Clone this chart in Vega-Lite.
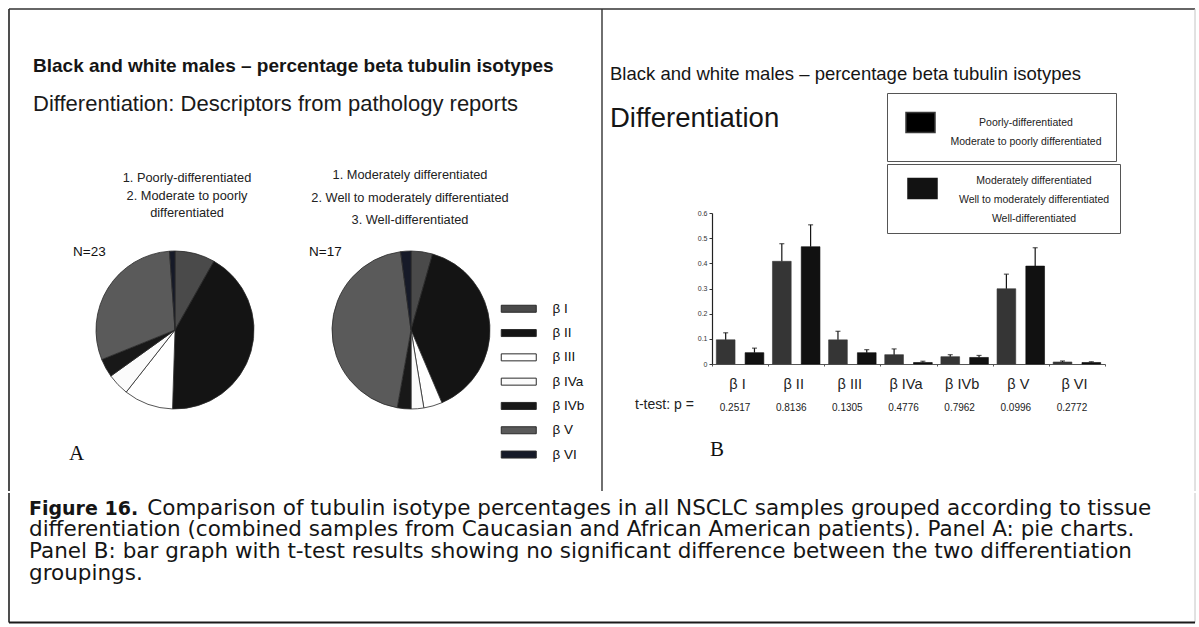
{
  "$schema": "https://vega.github.io/schema/vega-lite/v6.json",
  "padding": {"left": 7, "top": 8, "right": 6, "bottom": 5},
  "background": "white",
  "config": {
    "view": {"stroke": null},
    "font": "Liberation Sans",
    "axis": {"labelFont": "Liberation Sans"},
    "legend": {"labelFont": "Liberation Sans"},
    "style": {"guide-label": {"lineHeight": 19}}
  },
  "datasets": {
    "pies": [
      {"pie": "p1", "isotype": "β I", "pct": 8.2},
      {"pie": "p1", "isotype": "β II", "pct": 42.3},
      {"pie": "p1", "isotype": "β III", "pct": 10.1},
      {"pie": "p1", "isotype": "β IVa", "pct": 4.5},
      {"pie": "p1", "isotype": "β IVb", "pct": 3.8},
      {"pie": "p1", "isotype": "β V", "pct": 30.0},
      {"pie": "p1", "isotype": "β VI", "pct": 1.1},
      {"pie": "p2", "isotype": "β I", "pct": 4.4},
      {"pie": "p2", "isotype": "β II", "pct": 39.2},
      {"pie": "p2", "isotype": "β III", "pct": 3.8},
      {"pie": "p2", "isotype": "β IVa", "pct": 2.6},
      {"pie": "p2", "isotype": "β IVb", "pct": 2.8},
      {"pie": "p2", "isotype": "β V", "pct": 45.1},
      {"pie": "p2", "isotype": "β VI", "pct": 2.1}
    ],
    "pieNotes": [
      {"pie": "p1", "n": "N=23", "lines": ["1. Poorly-differentiated", "2. Moderate to poorly", "differentiated"]},
      {"pie": "p2", "n": "N=17", "lines": ["1. Moderately differentiated", "2. Well to  moderately differentiated", "3. Well-differentiated"]}
    ],
    "bars": [
      {"iso": "β I", "grp": "poor", "mean": 0.096, "upper": 0.124},
      {"iso": "β I", "grp": "well", "mean": 0.045, "upper": 0.063},
      {"iso": "β II", "grp": "poor", "mean": 0.408, "upper": 0.478},
      {"iso": "β II", "grp": "well", "mean": 0.466, "upper": 0.553},
      {"iso": "β III", "grp": "poor", "mean": 0.096, "upper": 0.13},
      {"iso": "β III", "grp": "well", "mean": 0.045, "upper": 0.057},
      {"iso": "β IVa", "grp": "poor", "mean": 0.037, "upper": 0.06},
      {"iso": "β IVa", "grp": "well", "mean": 0.006, "upper": 0.011},
      {"iso": "β IVb", "grp": "poor", "mean": 0.029, "upper": 0.037},
      {"iso": "β IVb", "grp": "well", "mean": 0.026, "upper": 0.034},
      {"iso": "β V", "grp": "poor", "mean": 0.299, "upper": 0.357},
      {"iso": "β V", "grp": "well", "mean": 0.389, "upper": 0.462},
      {"iso": "β VI", "grp": "poor", "mean": 0.008, "upper": 0.012},
      {"iso": "β VI", "grp": "well", "mean": 0.006, "upper": 0.009}
    ],
    "pvals": [
      {"iso": "β I", "p": "0.2517"},
      {"iso": "β II", "p": "0.8136"},
      {"iso": "β III", "p": "0.1305"},
      {"iso": "β IVa", "p": "0.4776"},
      {"iso": "β IVb", "p": "0.7962"},
      {"iso": "β V", "p": "0.0996"},
      {"iso": "β VI", "p": "0.2772"}
    ]
  },
  "vconcat": [
    {
      "hconcat": [
        {
          "width": 593,
          "height": 482,
          "title": {
            "text": "Black and white males – percentage beta tubulin isotypes",
            "subtitle": "Differentiation: Descriptors from pathology reports",
            "anchor": "start",
            "frame": "group",
            "orient": "top",
            "offset": -107,
            "dx": 24,
            "font": "Liberation Sans",
            "fontSize": 19,
            "fontWeight": "bold",
            "color": "#151515",
            "subtitleFont": "Liberation Sans",
            "subtitleFontSize": 22,
            "subtitleColor": "#1a1a1a",
            "subtitlePadding": 18
          },
          "layer": [
            {
              "data": {"values": [{}]},
              "mark": {"type": "rule", "stroke": "#222", "strokeWidth": 1.6},
              "encoding": {"x": {"value": 0}, "y": {"value": 0}, "y2": {"value": "height"}}
            },
            {
              "data": {"values": [{}]},
              "mark": {"type": "rule", "stroke": "#333", "strokeWidth": 1.6},
              "encoding": {"x": {"value": 0}, "x2": {"value": "width"}, "y": {"value": 0}}
            },
            {
              "data": {"values": [{}]},
              "mark": {"type": "rule", "stroke": "#333", "strokeWidth": 1.4},
              "encoding": {"x": {"value": "width"}, "y": {"value": 0}, "y2": {"value": "height"}}
            },
            {
              "data": {"name": "pies"},
              "transform": [{"filter": "datum.pie == 'p1'"}],
              "mark": {"type": "arc", "radius": 79, "stroke": "#2a2a2a", "strokeWidth": 0.8},
              "encoding": {
                "theta": {"field": "pct", "type": "quantitative", "stack": "normalize"},
                "order": {"field": "isotype", "type": "ordinal", "sort": "ascending"},
                "fill": {
                  "field": "isotype",
                  "type": "nominal",
                  "scale": {
                    "domain": ["β I", "β II", "β III", "β IVa", "β IVb", "β V", "β VI"],
                    "range": ["#4a4a4a", "#141414", "#ffffff", "#fbfbfb", "#181818", "#5a5a5a", "#161a28"]
                  },
                  "legend": {
                    "orient": "none",
                    "legendX": 503,
                    "legendY": 293,
                    "title": null,
                    "padding": 0,
                    "symbolType": "M-3.5,-0.7H3.5V0.7H-3.5Z",
                    "symbolSize": 100,
                    "symbolStrokeColor": "#222",
                    "symbolStrokeWidth": 1,
                    "labelFontSize": 13.5,
                    "labelColor": "#111",
                    "labelOffset": 27,
                    "rowPadding": 9.3
                  }
                },
                "x": {"field": "pie", "type": "nominal", "scale": {"type": "point", "domain": ["p1", "p2"], "range": [166, 402], "padding": 0}, "axis": null},
                "y": {"field": "pie", "type": "nominal", "scale": {"type": "point", "domain": ["p1", "p2"], "range": [321, 321], "padding": 0}, "axis": null}
              }
            },
            {
              "data": {"name": "pies"},
              "transform": [{"filter": "datum.pie == 'p2'"}],
              "mark": {"type": "arc", "radius": 79, "stroke": "#2a2a2a", "strokeWidth": 0.8},
              "encoding": {
                "theta": {"field": "pct", "type": "quantitative", "stack": "normalize"},
                "order": {"field": "isotype", "type": "ordinal", "sort": "ascending"},
                "fill": {"field": "isotype", "type": "nominal"},
                "x": {"field": "pie", "type": "nominal"},
                "y": {"field": "pie", "type": "nominal"}
              }
            },
            {
              "data": {"name": "pieNotes"},
              "transform": [{"filter": "datum.pie == 'p1'"}],
              "mark": {"type": "text", "align": "center", "baseline": "alphabetic", "fontSize": 12.8, "lineHeight": 17.5, "dx": 12, "dy": -148, "fill": "#222"},
              "encoding": {
                "x": {"field": "pie", "type": "nominal"},
                "y": {"field": "pie", "type": "nominal"},
                "text": {"field": "lines"}
              }
            },
            {
              "data": {"name": "pieNotes"},
              "transform": [{"filter": "datum.pie == 'p2'"}],
              "mark": {"type": "text", "align": "center", "baseline": "alphabetic", "fontSize": 12.8, "lineHeight": 22.5, "dx": -1, "dy": -151, "fill": "#222"},
              "encoding": {
                "x": {"field": "pie", "type": "nominal"},
                "y": {"field": "pie", "type": "nominal"},
                "text": {"field": "lines"}
              }
            },
            {
              "data": {"name": "pieNotes"},
              "mark": {"type": "text", "align": "left", "baseline": "alphabetic", "fontSize": 13.5, "dx": -102, "dy": -74, "fill": "#111"},
              "encoding": {
                "x": {"field": "pie", "type": "nominal"},
                "y": {"field": "pie", "type": "nominal"},
                "text": {"field": "n"}
              }
            },
            {
              "data": {"values": [{"pie": "p1", "tag": "A"}]},
              "mark": {"type": "text", "align": "left", "baseline": "alphabetic", "font": "Liberation Serif", "fontSize": 21, "dx": -106, "dy": 130, "fill": "#111"},
              "encoding": {
                "x": {"field": "pie", "type": "nominal"},
                "y": {"field": "pie", "type": "nominal"},
                "text": {"field": "tag"}
              }
            }
          ]
        },
        {
          "width": 593,
          "height": 482,
          "title": {
            "text": "Black and white males – percentage beta tubulin isotypes",
            "subtitle": "Differentiation",
            "anchor": "start",
            "frame": "group",
            "orient": "top",
            "offset": -124,
            "dx": 8,
            "font": "Liberation Sans",
            "fontSize": 18.5,
            "fontWeight": "normal",
            "color": "#151515",
            "subtitleFont": "Liberation Sans",
            "subtitleFontSize": 27.5,
            "subtitleColor": "#151515",
            "subtitlePadding": 21.5
          },
          "resolve": {"scale": {"stroke": "independent"}},
          "layer": [
            {
              "data": {"values": [{}]},
              "mark": {"type": "rule", "stroke": "#333", "strokeWidth": 1.6},
              "encoding": {"x": {"value": 0}, "x2": {"value": "width"}, "y": {"value": 0}}
            },
            {
              "data": {"values": [{}]},
              "mark": {"type": "rule", "stroke": "#c4c4c4", "strokeWidth": 1},
              "encoding": {"x": {"value": "width"}, "y": {"value": 0}, "y2": {"value": "height"}}
            },
            {
              "data": {"name": "bars"},
              "mark": {"type": "bar", "strokeWidth": 0.6},
              "encoding": {
                "x": {
                  "field": "iso",
                  "type": "nominal",
                  "scale": {"domain": ["β I", "β II", "β III", "β IVa", "β IVb", "β V", "β VI"], "range": [110, 503], "paddingInner": 0, "paddingOuter": 0},
                  "axis": {
                    "orient": "bottom",
                    "offset": -127,
                    "title": null,
                    "labelAngle": 0,
                    "labelFontSize": 14.5,
                    "labelColor": "#222",
                    "labelPadding": 11,
                    "labelOffset": -3,
                    "tickSize": 2,
                    "tickBand": "extent",
                    "tickColor": "#555",
                    "domainColor": "#555",
                    "domainWidth": 1
                  }
                },
                "xOffset": {"field": "grp", "type": "nominal", "scale": {"domain": ["poor", "well"], "paddingInner": 0.35, "paddingOuter": 0.15}},
                "y": {
                  "field": "mean",
                  "type": "quantitative",
                  "scale": {"domain": [0, 0.6], "range": [355, 204]},
                  "axis": {
                    "orient": "left",
                    "offset": -110,
                    "title": null,
                    "values": [0, 0.1, 0.2, 0.3, 0.4, 0.5, 0.6],
                    "format": ".1~f",
                    "labelFontSize": 7,
                    "labelColor": "#333",
                    "labelPadding": 2,
                    "tickSize": 3,
                    "tickColor": "#333",
                    "domainColor": "#222",
                    "domainWidth": 1.2,
                    "grid": false
                  }
                },
                "fill": {
                  "field": "grp",
                  "type": "nominal",
                  "scale": {"domain": ["poor", "well"], "range": ["#353535", "#111111"]},
                  "legend": null
                },
                "stroke": {
                  "field": "grp",
                  "type": "nominal",
                  "scale": {"domain": ["poor", "well"], "range": ["#393939", "#0a0a0a"]},
                  "legend": {
                    "values": ["poor"],
                    "orient": "none",
                    "legendX": 285,
                    "legendY": 84,
                    "title": null,
                    "symbolType": "M-1,-0.69H1V0.69H-1Z",
                    "symbolSize": 841,
                    "symbolOffset": 4,
                    "labelExpr": "['Poorly-differentiated', 'Moderate to poorly differentiated']",
                    "labelAlign": "center",
                    "labelOffset": 90,
                    "labelFontSize": 10.5,
                    "labelColor": "#222",
                    "labelLimit": 400,
                    "strokeColor": "#555",
                    "padding": 14
                  }
                }
              }
            },
            {
              "data": {"name": "bars"},
              "mark": {"type": "rule", "strokeWidth": 1.2},
              "encoding": {
                "x": {"field": "iso", "type": "nominal"},
                "xOffset": {"field": "grp", "type": "nominal"},
                "y": {"field": "mean", "type": "quantitative", "title": null},
                "y2": {"field": "upper"},
                "stroke": {
                  "field": "grp",
                  "type": "nominal",
                  "scale": {"domain": ["well", "poor"], "range": ["#141414", "#141414"]},
                  "legend": {
                    "values": ["well"],
                    "orient": "none",
                    "legendX": 285,
                    "legendY": 155,
                    "title": null,
                    "symbolType": "M-1,-0.69H1V0.69H-1Z",
                    "symbolSize": 841,
                    "symbolOffset": 11,
                    "labelExpr": "['Moderately differentiated', 'Well to  moderately differentiated', 'Well-differentiated']",
                    "labelAlign": "center",
                    "labelOffset": 96,
                    "labelFontSize": 10.5,
                    "labelColor": "#222",
                    "labelLimit": 400,
                    "strokeColor": "#555",
                    "padding": 9,
                    "encode": {
                      "labels": {"update": {"lineHeight": {"value": 19}, "dy": {"value": -8}}},
                      "symbols": {"update": {"fill": {"value": "#121212"}, "stroke": {"value": "#121212"}}}
                    }
                  }
                }
              }
            },
            {
              "data": {"name": "bars"},
              "mark": {"type": "tick", "size": 5, "thickness": 1.2, "color": "#141414"},
              "encoding": {
                "x": {"field": "iso", "type": "nominal"},
                "xOffset": {"field": "grp", "type": "nominal"},
                "y": {"field": "upper", "type": "quantitative", "title": null}
              }
            },
            {
              "data": {"name": "pvals"},
              "mark": {"type": "text", "align": "center", "baseline": "alphabetic", "fontSize": 10, "dx": -5, "dy": 47, "fill": "#222"},
              "encoding": {
                "x": {"field": "iso", "type": "nominal"},
                "y": {"datum": 0, "type": "quantitative"},
                "text": {"field": "p"}
              }
            },
            {
              "data": {"values": [{"iso": "β I", "note": "t-test: p ="}]},
              "mark": {"type": "text", "align": "left", "baseline": "alphabetic", "fontSize": 14, "dx": -105, "dy": 45, "fill": "#222"},
              "encoding": {
                "x": {"field": "iso", "type": "nominal"},
                "y": {"datum": 0, "type": "quantitative"},
                "text": {"field": "note"}
              }
            },
            {
              "data": {"values": [{"iso": "β I", "tag": "B"}]},
              "mark": {"type": "text", "align": "left", "baseline": "alphabetic", "font": "Liberation Serif", "fontSize": 21, "dx": -30, "dy": 92, "fill": "#111"},
              "encoding": {
                "x": {"field": "iso", "type": "nominal"},
                "y": {"datum": 0, "type": "quantitative"},
                "text": {"field": "tag"}
              }
            }
          ]
        }
      ],
      "spacing": 0,
      "bounds": "flush",
      "resolve": {"scale": {"fill": "independent", "stroke": "independent", "theta": "independent"}}
    },
    {
      "width": 1186,
      "height": 129.5,
      "title": {
        "text": "Figure 16.",
        "subtitle": [
          "\u200b\u2003\u2003\u2003\u2003\u2003\u2002Comparison of tubulin isotype percentages in all NSCLC samples grouped according to tissue",
          "differentiation (combined samples from Caucasian and African American patients). Panel A: pie charts.",
          "Panel B: bar graph with t-test results showing no significant difference between the two differentiation",
          "groupings."
        ],
        "anchor": "start",
        "frame": "group",
        "orient": "top",
        "offset": -94,
        "dx": 20,
        "font": "DejaVu Sans",
        "fontSize": 19,
        "fontWeight": "bold",
        "color": "#151515",
        "subtitleFont": "DejaVu Sans",
        "subtitleFontSize": 21.5,
        "subtitleColor": "#151515",
        "subtitleLineHeight": 21.6,
        "subtitlePadding": -21
      },
      "data": {"values": [{}]},
      "layer": [
        {
          "mark": {"type": "rule", "stroke": "#222", "strokeWidth": 1.6},
          "encoding": {"x": {"value": 0}, "y": {"value": 0}, "y2": {"value": "height"}}
        },
        {
          "mark": {"type": "rule", "stroke": "#c4c4c4", "strokeWidth": 1},
          "encoding": {"x": {"value": "width"}, "y": {"value": 0}, "y2": {"value": "height"}}
        },
        {
          "mark": {"type": "rule", "stroke": "#1a1a1a", "strokeWidth": 2.2},
          "encoding": {"x": {"value": 0}, "x2": {"value": "width"}, "y": {"value": "height"}}
        }
      ]
    }
  ],
  "spacing": 0,
  "bounds": "full",
  "resolve": {"scale": {"fill": "independent", "stroke": "independent", "theta": "independent"}}
}
